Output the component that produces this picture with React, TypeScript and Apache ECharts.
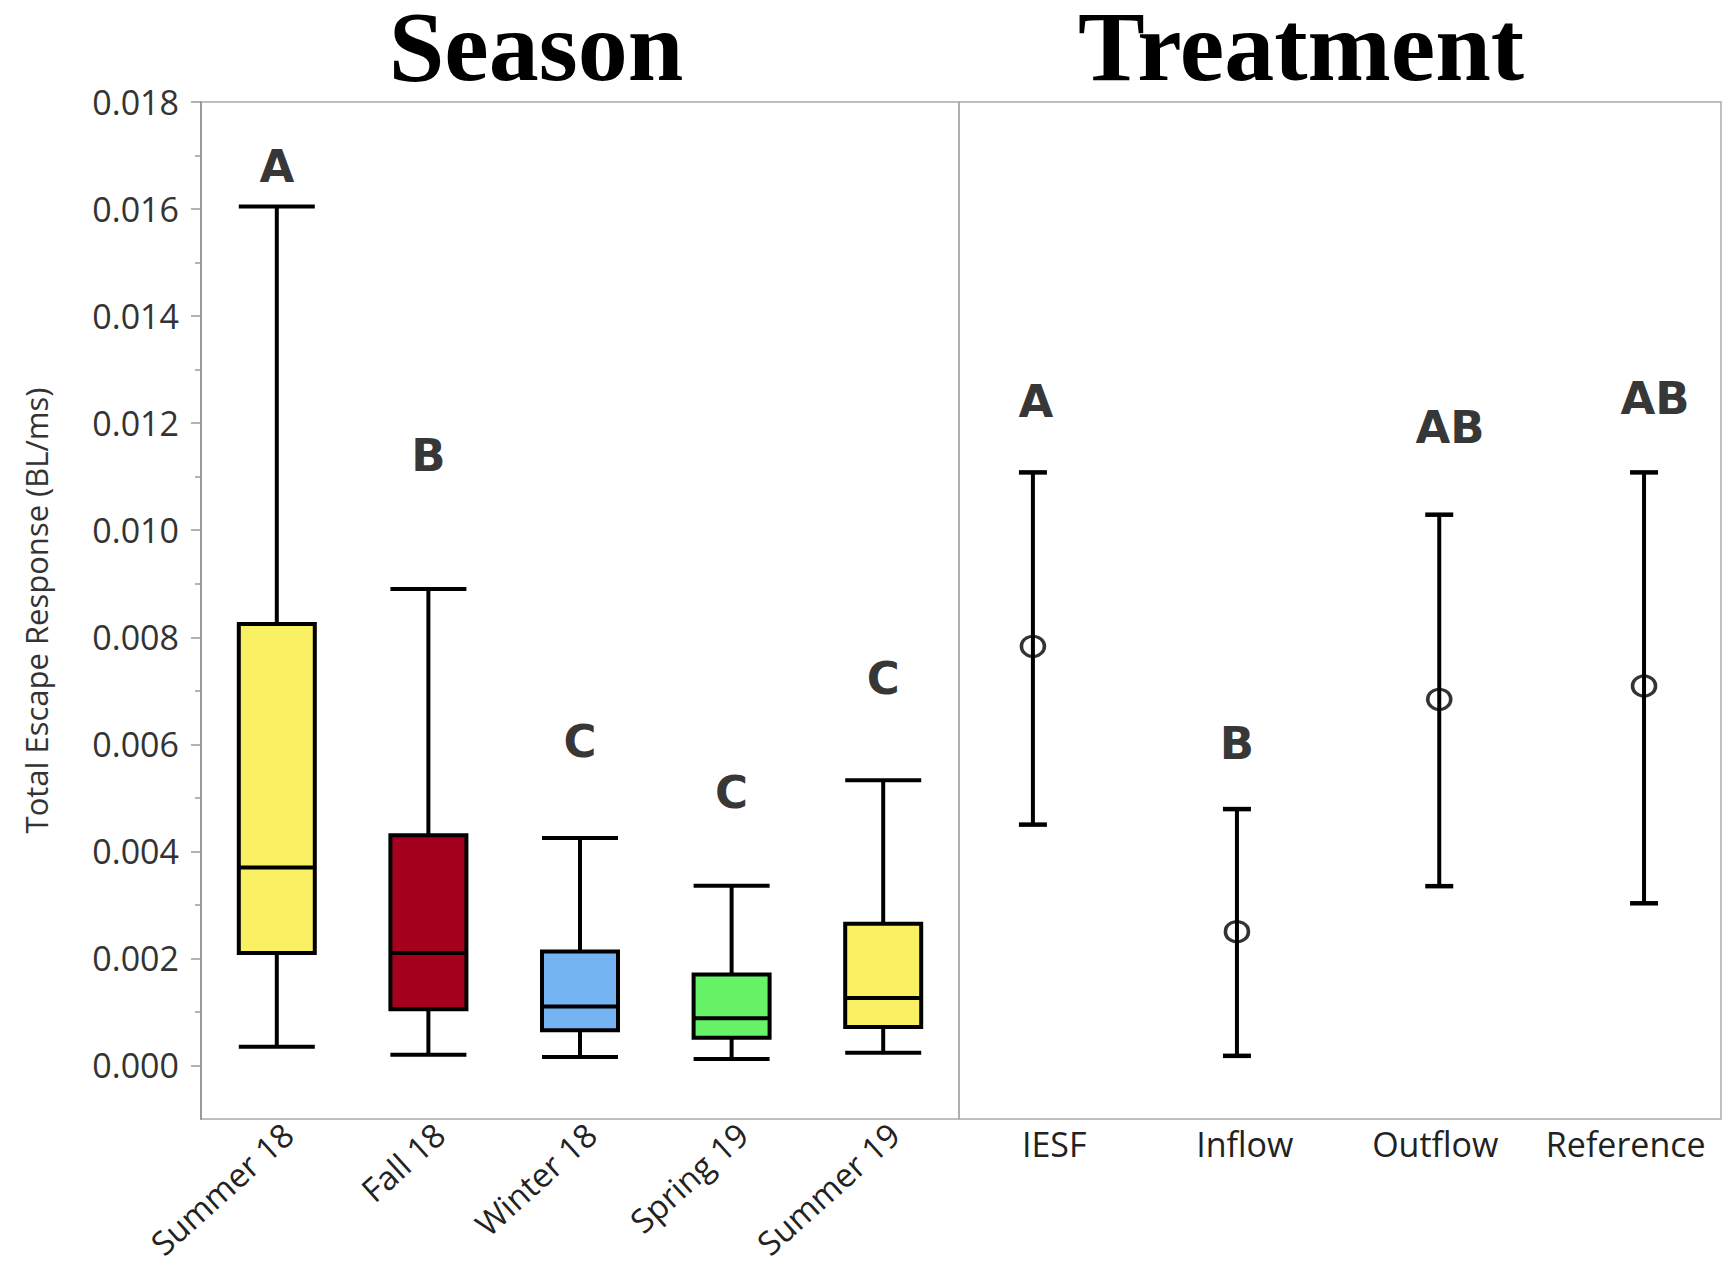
import React, { useEffect, useRef } from "react";
import * as echarts from "echarts";

// ---------- data ----------
const seasons = ["Summer 18", "Fall 18", "Winter 18", "Spring 19", "Summer 19"];
// [min, Q1, median, Q3, max]
const summer18 = [0.00035, 0.0021, 0.0037, 0.00825, 0.01605];
const fall18 = [0.0002, 0.00105, 0.0021, 0.0043, 0.0089];
const winter18 = [0.00016, 0.00066, 0.0011, 0.00213, 0.00425];
const spring19 = [0.00012, 0.00052, 0.00088, 0.0017, 0.00336];
const summer19 = [0.00024, 0.00072, 0.00126, 0.00265, 0.00533];
const seasonBoxes = [summer18, fall18, winter18, spring19, summer19];
const seasonColors = ["#F9F063", "#A5001E", "#74B4F3", "#67F367", "#F9F063"];
const seasonLetters = ["A", "B", "C", "C", "C"];
const seasonLetterY = [0.0168, 0.0114, 0.00605, 0.0051, 0.00723];

const treatments = ["IESF", "Inflow", "Outflow", "Reference"];
const treatmentMean = [0.00783, 0.0025, 0.00684, 0.00709];
const treatmentLow = [0.0045, 0.00018, 0.00335, 0.00303];
const treatmentHigh = [0.01108, 0.00479, 0.01029, 0.01108];
const treatmentOffset = [-0.112, -0.041, 0.021, 0.096];
const treatmentLetters = ["A", "B", "AB", "AB"];
const treatmentLetterOffset = [-0.096, -0.041, 0.078, 0.154];
const treatmentLetterY = [0.0124, 0.00601, 0.01192, 0.01246];

const yMajorTicks = [0, 0.002, 0.004, 0.006, 0.008, 0.01, 0.012, 0.014, 0.016, 0.018];
const yMinorTicks = [0.001, 0.003, 0.005, 0.007, 0.009, 0.011, 0.013, 0.015, 0.017];
const yMin = -0.001;
const yMax = 0.018;

const FONT = "Open Sans";
const LETTER_FONT = "DejaVu Sans";

export default function App() {
  const ref = useRef<HTMLDivElement>(null);

  useEffect(() => {
    document.body.style.margin = "0";
    if (!ref.current) return;
    const chart = echarts.init(ref.current, null, { renderer: "svg" });

    const letterLabel = {
      show: true,
      position: "inside",
      formatter: (p: any) => p.data.letter,
      fontFamily: LETTER_FONT,
      fontWeight: "bold",
      fontSize: 45,
      color: "#000",
    };

    const titleStyle = (text: string) => ({
      text,
      font: "bold 100px 'Liberation Serif'",
      lineHeight: 84,
      fill: "#000",
      textAlign: "center",
      textVerticalAlign: "middle",
    });

    const option: any = {
      animation: false,
      backgroundColor: "#fff",
      graphic: [
        { type: "text", x: 536, y: 46, style: titleStyle("Season") },
        { type: "text", x: 1301, y: 46, style: titleStyle("Treatment") },
      ],
      grid: [
        { left: 201, top: 102, width: 758, height: 1017, show: true, borderColor: "#ababab", borderWidth: 1.5, backgroundColor: "#fff", outerBoundsMode: "none", containLabel: false },
        { left: 959, top: 102, width: 762, height: 1017, show: true, borderColor: "#ababab", borderWidth: 1.5, backgroundColor: "transparent", outerBoundsMode: "none", containLabel: false },
      ],
      xAxis: [
        {
          type: "category",
          gridIndex: 0,
          data: seasons,
          boundaryGap: true,
          axisLine: { show: false },
          axisTick: { show: false },
          splitLine: { show: false },
          axisLabel: {
            interval: 0,
            rotate: 42,
            margin: -2,
            verticalAlign: "top",
            fontFamily: FONT,
            fontSize: 33,
            color: "#222",
          },
        },
        {
          type: "value",
          gridIndex: 1,
          min: -0.5,
          max: 3.5,
          axisLine: { show: false },
          axisTick: { show: false },
          splitLine: { show: false },
          axisLabel: {
            customValues: [0, 1, 2, 3],
            formatter: (v: number) => treatments[Math.round(v)] ?? "",
            margin: 8,
            fontFamily: FONT,
            fontSize: 34,
            color: "#222",
          },
        },
      ],
      yAxis: [
        {
          type: "value",
          gridIndex: 0,
          position: "left",
          min: yMin,
          max: yMax,
          name: "Total Escape Response (BL/ms)",
          nameLocation: "middle",
          nameGap: 150,
          nameTextStyle: { fontFamily: FONT, fontSize: 31, color: "#333" },
          axisLine: { show: true, lineStyle: { color: "#9a9a9a", width: 2 } },
          axisTick: { show: true, customValues: yMajorTicks, length: 10, lineStyle: { color: "#9a9a9a", width: 1.5 } },
          splitLine: { show: false },
          axisLabel: {
            customValues: yMajorTicks,
            formatter: (v: number) => v.toFixed(3),
            margin: 22,
            fontFamily: FONT,
            fontSize: 34,
            color: "#333",
          },
        },
        {
          type: "value",
          gridIndex: 0,
          position: "left",
          offset: 0,
          min: yMin,
          max: yMax,
          axisLine: { show: false },
          axisTick: { show: true, customValues: yMinorTicks, length: 6, lineStyle: { color: "#9a9a9a", width: 1.5 } },
          splitLine: { show: false },
          axisLabel: { show: false },
        },
        {
          type: "value",
          gridIndex: 1,
          position: "left",
          min: yMin,
          max: yMax,
          show: false,
          splitLine: { show: false },
        },
      ],
      series: [
        {
          type: "boxplot",
          xAxisIndex: 0,
          yAxisIndex: 0,
          boxWidth: [76, 76],
          itemStyle: { borderColor: "#000", borderWidth: 4 },
          data: seasonBoxes.map((v, i) => ({ value: v, itemStyle: { color: seasonColors[i] } })),
          silent: true,
        },
        {
          type: "scatter",
          xAxisIndex: 0,
          yAxisIndex: 0,
          symbolSize: 1,
          itemStyle: { color: "transparent" },
          label: letterLabel,
          data: seasonLetters.map((l, i) => ({ value: [i, seasonLetterY[i]], letter: l })),
          silent: true,
          z: 5,
        },
        {
          type: "custom",
          xAxisIndex: 1,
          yAxisIndex: 2,
          data: treatments.map((_, i) => [i + treatmentOffset[i], treatmentLow[i], treatmentHigh[i]]),
          renderItem: (params: any, api: any) => {
            const x = api.value(0);
            const pLo = api.coord([x, api.value(1)]);
            const pHi = api.coord([x, api.value(2)]);
            const hw = 14;
            return {
              type: "group",
              children: [
                { type: "line", shape: { x1: pLo[0], y1: pLo[1], x2: pHi[0], y2: pHi[1] }, style: { stroke: "#000", lineWidth: 4 } },
                { type: "line", shape: { x1: pLo[0] - hw, y1: pLo[1], x2: pLo[0] + hw, y2: pLo[1] }, style: { stroke: "#000", lineWidth: 4.5 } },
                { type: "line", shape: { x1: pHi[0] - hw, y1: pHi[1], x2: pHi[0] + hw, y2: pHi[1] }, style: { stroke: "#000", lineWidth: 4.5 } },
              ],
            };
          },
          silent: true,
        },
        {
          type: "scatter",
          xAxisIndex: 1,
          yAxisIndex: 2,
          symbol: "circle",
          symbolSize: [23, 20],
          itemStyle: { color: "rgba(0,0,0,0)", borderColor: "#000", borderWidth: 3.4 },
          data: treatments.map((_, i) => [i + treatmentOffset[i], treatmentMean[i]]),
          silent: true,
          z: 4,
        },
        {
          type: "scatter",
          xAxisIndex: 1,
          yAxisIndex: 2,
          symbolSize: 1,
          itemStyle: { color: "transparent" },
          label: letterLabel,
          data: treatmentLetters.map((l, i) => ({ value: [i + treatmentLetterOffset[i], treatmentLetterY[i]], letter: l })),
          silent: true,
          z: 5,
        },
      ],
    };

    chart.setOption(option);
    return () => chart.dispose();
  }, []);

  return <div ref={ref} style={{ width: 1736, height: 1262 }} />;
}
